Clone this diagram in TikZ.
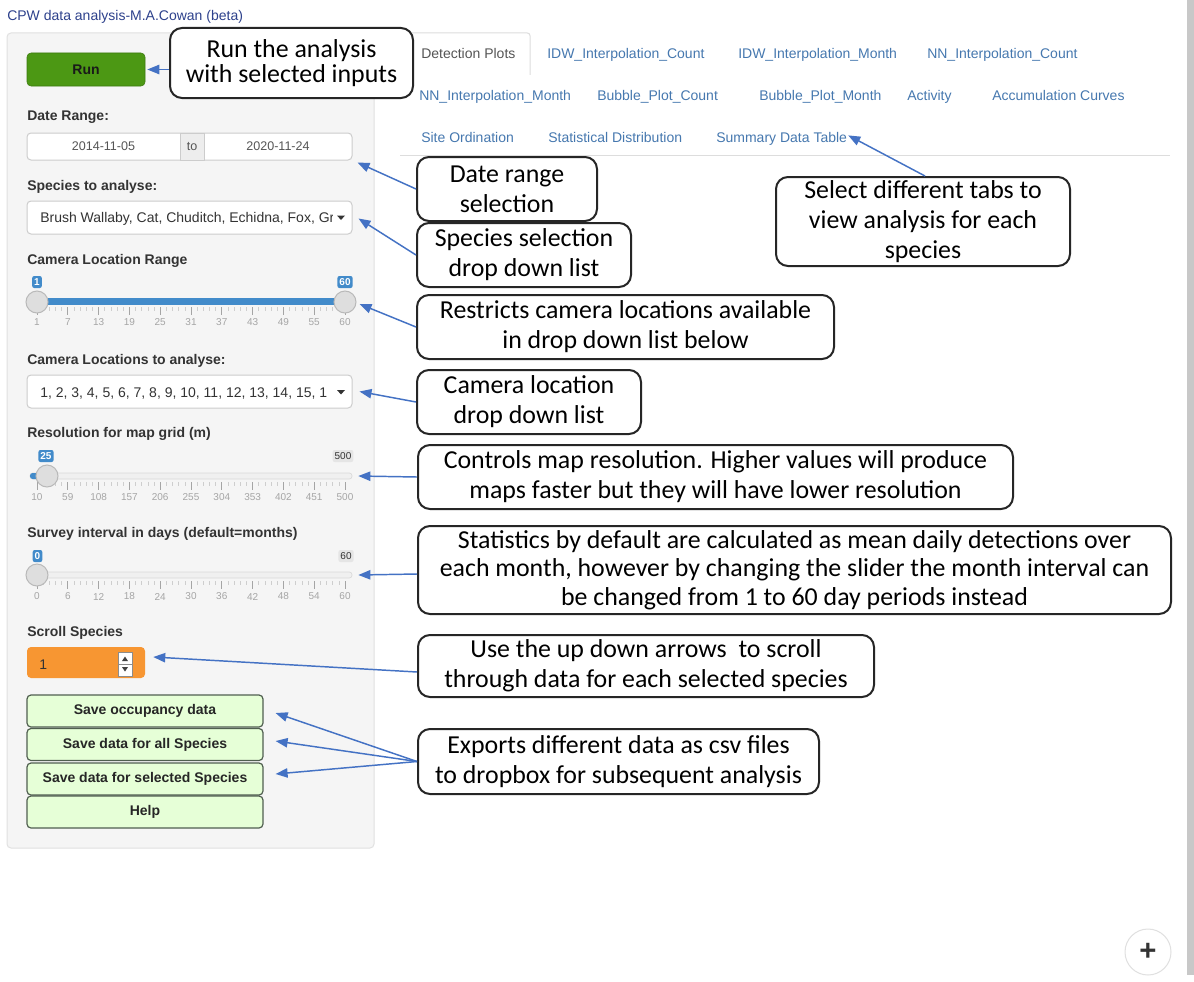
\documentclass[tikz,border=0pt]{standalone}
\usepackage{fontspec}
\setmainfont{Liberation Sans}
\newfontfamily\callfont{Carlito}
\usetikzlibrary{arrows.meta,calc}

\definecolor{titleblue}{RGB}{45,65,140}
\definecolor{panelbg}{RGB}{245,245,245}
\definecolor{panelbd}{RGB}{225,225,225}
\definecolor{rungreen}{RGB}{76,152,20}
\definecolor{inbd}{RGB}{204,204,204}
\definecolor{txtgray}{RGB}{85,85,85}
\definecolor{labgray}{RGB}{51,51,51}
\definecolor{slblue}{RGB}{66,139,202}
\definecolor{tickgray}{RGB}{165,165,165}
\definecolor{handlefill}{RGB}{222,222,222}
\definecolor{handlebd}{RGB}{185,185,185}
\definecolor{orangein}{RGB}{247,150,50}
\definecolor{btngreen}{RGB}{230,255,215}
\definecolor{btnbd}{RGB}{80,95,80}
\definecolor{tabblue}{RGB}{70,120,175}
\definecolor{arrblue}{RGB}{68,114,196}
\definecolor{rulegray}{RGB}{221,221,221}
\definecolor{scrollgray}{RGB}{200,200,200}

\newcommand\uifont{\fontsize{10.5}{12}\selectfont}
\newcommand\smallui{\fontsize{9.4}{11}\selectfont}
\newcommand\tickfont{\fontsize{7.5}{9}\selectfont}
\newcommand\callsize{\callfont\fontsize{19.4}{22.5}\selectfont}

\newcommand\slgrid[2]{%
  \foreach \j in {0,...,50} \draw[tickgray!55,line width=0.5pt] ({37+6.16*\j},#1) -- ++(0,4);
  \foreach \j in {0,...,10} \draw[tickgray,line width=0.6pt] ({37+30.8*\j},#1) -- ++(0,8);
  \foreach \v [count=\i from 0] in {#2} \node[ticklab] at ({37+30.8*\i},#1+15.5) {\v};
}

\begin{document}
\begin{tikzpicture}[x=0.75pt,y=-0.75pt,
  uilab/.style={anchor=base west,inner sep=0,font=\uifont\bfseries,text=labgray},
  tabtxt/.style={anchor=base west,inner sep=0,font=\uifont,text=tabblue},
  callout/.style={draw=black!85,line width=1.5pt,rounded corners=9pt,fill=white,align=center,font=\callsize,inner sep=0pt},
  arr/.style={draw=arrblue,line width=1.1pt,-{Triangle[length=9pt,width=7pt]}},
  inbox/.style={draw=inbd,fill=white,line width=0.75pt,inner sep=0,rounded corners=3pt},
  ticklab/.style={font=\tickfont,text=tickgray,inner sep=0},
  vallab/.style={fill=slblue,text=white,font=\tickfont\bfseries,rounded corners=1.5pt,inner sep=1.5pt,minimum height=9pt},
  graylab/.style={fill=black!10,text=labgray,font=\tickfont,rounded corners=1.5pt,inner sep=1.5pt,minimum height=9pt},
  handle/.style={circle,fill=handlefill,draw=handlebd,line width=0.75pt,minimum size=16.5pt,inner sep=0},
  track/.style={fill=black!6,draw=black!15,line width=0.5pt,rounded corners=2pt,minimum width=322*0.75pt,minimum height=6*0.75pt,inner sep=0},
  savebtn/.style={draw=btnbd,fill=btngreen,line width=0.9pt,rounded corners=3pt,minimum width=177pt,minimum height=24pt,font=\uifont\bfseries,text=black!85,inner sep=0}
]
\useasboundingbox (0,0) rectangle (1194,981);
\fill[white] (0,0) rectangle (1194,981);

% scrollbar
\fill[scrollgray] (1187,0) rectangle (1194,975);

% title
\node[anchor=base west,inner sep=0,font=\uifont,text=titleblue] (title) at (7,21) {CPW data analysis-M.A.Cowan (beta)};

% sidebar panel
\draw[panelbd,fill=panelbg,rounded corners=3pt,line width=0.75pt] (7,33) rectangle (374,848);

% Run button
\node[fill=rungreen,draw=rungreen!80!black,rounded corners=3pt,minimum width=118*0.75pt,minimum height=33*0.75pt,font=\uifont\bfseries,text=black!90,inner sep=0] (runbtn) at (86,69.5) {Run};

% Date range
\node[uilab] (lbldate) at (27,120) {Date Range:};
\node[inbox,minimum width=325*0.75pt,minimum height=27*0.75pt] (dateinput) at (189.5,146.5) {};
\filldraw[draw=inbd,fill=black!7,line width=0.75pt] (180,133) rectangle (204,160);
\node[font=\smallui,text=txtgray,inner sep=0] (datefrom) at (103.5,146.5) {2014-11-05};
\node[font=\smallui,text=txtgray,inner sep=0] (dateto) at (192,146.5) {to};
\node[font=\smallui,text=txtgray,inner sep=0] (dateend) at (278,146.5) {2020-11-24};

% Species
\node[uilab] (lblspec) at (27,190) {Species to analyse:};
\node[inbox,minimum width=325*0.75pt,minimum height=33*0.75pt] (specdd) at (189.5,217.5) {};
\begin{scope}
\clip (30,202) rectangle (332.5,233);
\node[anchor=base west,inner sep=0,font=\uifont,text=labgray] (spectxt) at (40,222.5) {Brush Wallaby, Cat, Chuditch, Echidna, Fox, Gr};
\end{scope}
\fill[labgray] (337,215.5) -- (345,215.5) -- (341,220) -- cycle;

% Camera location range slider
\node[uilab] (lblcamr) at (27,264) {Camera Location Range};
\node[track,fill=slblue,draw=slblue] (tr1) at (191,301.5) {};
\slgrid{307}{1,7,13,19,25,31,37,43,49,55,60}
\node[handle] (h1a) at (37,302) {};
\node[handle] (h1b) at (345,302) {};
\node[vallab] (v1a) at (37,282) {1};
\node[vallab] (v1b) at (345,282) {60};

% Camera locations dropdown
\node[uilab] (lblcaml) at (27,364) {Camera Locations to analyse:};
\node[inbox,minimum width=325*0.75pt,minimum height=33*0.75pt] (camdd) at (189.5,391.5) {};
\node[anchor=base west,inner sep=0,font=\uifont,text=labgray] (camtxt) at (40,397) {1, 2, 3, 4, 5, 6, 7, 8, 9, 10, 11, 12, 13, 14, 15, 1};
\fill[labgray] (337,390) -- (345,390) -- (341,394.5) -- cycle;

% Resolution slider
\node[uilab] (lblres) at (27,437) {Resolution for map grid (m)};
\node[track] (tr2) at (191,476) {};
\fill[slblue,rounded corners=2pt] (30,473) rectangle (47,479);
\slgrid{482}{10,59,108,157,206,255,304,353,402,451,500}
\node[handle] (h2) at (47,476) {};
\node[vallab] (v2a) at (46,456) {25};
\node[graylab] (v2b) at (343,456) {500};

% Survey interval slider
\node[uilab] (lblsurv) at (27,537) {Survey interval in days (default=months)};
\node[track] (tr3) at (191,575) {};
\slgrid{581}{0,6,12,18,24,30,36,42,48,54,60}
\node[handle] (h3) at (37,575) {};
\node[vallab] (v3a) at (37.5,556) {0};
\node[graylab] (v3b) at (346,556) {60};

% Scroll species
\node[uilab] (lblscroll) at (27,636) {Scroll Species};
\node[fill=orangein,rounded corners=3pt,minimum width=118*0.75pt,minimum height=31*0.75pt,inner sep=0] (scrollin) at (86,662.5) {};
\node[anchor=base west,inner sep=0,font=\uifont,text=labgray] (scrollval) at (39,669) {1};
\draw[black!45,fill=white,line width=0.5pt] (118,652) rectangle (132,676);
\draw[black!45,line width=0.5pt] (118,664) -- (132,664);
\fill[black!75] (122,661) -- (128,661) -- (125,656.5) -- cycle;
\fill[black!75] (122,667) -- (128,667) -- (125,671.5) -- cycle;

% Save buttons
\node[savebtn] (b1) at (145,711) {Save occupancy data};
\node[savebtn] (b2) at (145,744.5) {Save data for all Species};
\node[savebtn] (b3) at (145,779) {Save data for selected Species};
\node[savebtn] (b4) at (145,812) {Help};

% Tabs
\draw[rulegray,line width=0.75pt,rounded corners=2pt] (405,75) -- (405,33) -- (530,33) -- (530,75);
\node[tabtxt,text=txtgray] (t1) at (421,59) {Detection Plots};
\node[tabtxt] (t2) at (547,59) {IDW\_Interpolation\_Count};
\node[tabtxt] (t3) at (738,59) {IDW\_Interpolation\_Month};
\node[tabtxt] (t4) at (927,59) {NN\_Interpolation\_Count};
\node[tabtxt] (t5) at (419,100) {NN\_Interpolation\_Month};
\node[tabtxt] (t6) at (597,100) {Bubble\_Plot\_Count};
\node[tabtxt] (t7) at (759,100) {Bubble\_Plot\_Month};
\node[tabtxt] (t8) at (907,100) {Activity};
\node[tabtxt] (t9) at (992,100) {Accumulation Curves};
\node[tabtxt] (t10) at (421,142) {Site Ordination};
\node[tabtxt] (t11) at (548,142) {Statistical Distribution};
\node[tabtxt] (t12) at (716,142) {Summary Data Table};
\draw[rulegray,line width=0.75pt] (400,155) -- (1170,155);

% plus button
\node[circle,draw=black!12,fill=white,minimum size=46*0.75pt,line width=0.75pt,inner sep=0] (plus) at (1148,952) {};
\node[font=\fontsize{22}{22}\selectfont\bfseries,text=black!80,inner sep=0] (plustxt) at (plus.center) {+};

% Callouts
\node[callout,minimum width=243*0.75pt,minimum height=70*0.75pt,font=\callfont\fontsize{19.4}{18.5}\selectfont] (crun) at (291.5,63) {Run the analysis\\with selected inputs};
\node[callout,minimum width=180*0.75pt,minimum height=64*0.75pt] (cdate) at (507,189) {Date range\\selection};
\node[callout,minimum width=214*0.75pt,minimum height=64*0.75pt] (cspec) at (524,255) {Species selection\\drop down list};
\node[callout,minimum width=417*0.75pt,minimum height=64*0.75pt] (crestr) at (625.5,327) {Restricts camera locations available\\in drop down list below};
\node[callout,minimum width=224*0.75pt,minimum height=64*0.75pt] (ccam) at (529,402) {Camera location\\drop down list};
\node[callout,minimum width=595*0.75pt,minimum height=64*0.75pt] (cctrl) at (715.5,477) {Controls map resolution. Higher values will produce\\maps faster but they will have lower resolution};
\node[callout,minimum width=753*0.75pt,minimum height=88*0.75pt,font=\callfont\fontsize{19.4}{21.5}\selectfont] (cstats) at (794.5,570) {Statistics by default are calculated as mean daily detections over\\each month, however by changing the slider the month interval can\\be changed from 1 to 60 day periods instead};
\node[callout,minimum width=456*0.75pt,minimum height=62*0.75pt] (cuse) at (646,666) {Use the up down arrows\ \ to scroll\\through data for each selected species};
\node[callout,minimum width=401*0.75pt,minimum height=65*0.75pt] (cexp) at (618.5,761.5) {Exports different data as csv files\\to dropbox for subsequent analysis};
\node[callout,minimum width=294*0.75pt,minimum height=89*0.75pt] (ctabs) at (923,221.5) {Select different tabs to\\view analysis for each\\species};

% Arrows
\draw[arr] (crun.west |- runbtn.east) -- ([xshift=1.5pt]runbtn.east);
\draw[arr] (cdate.west) -- ([shift={(5,2)}]dateinput.south east);
\draw[arr] (cspec.west) -- ([shift={(6,1)}]specdd.east);
\draw[arr] (crestr.west) -- ([shift={(3,2)}]h1b.east);
\draw[arr] (ccam.west) -- ([shift={(7,0)}]camdd.east);
\draw[arr] (cctrl.west) -- ([shift={(6,0)}]tr2.east);
\draw[arr] ([shift={(0,4)}]cstats.west) -- ([shift={(6,0)}]tr3.east);
\draw[arr] ([shift={(0,6)}]cuse.west) -- ([shift={(8,-5.5)}]scrollin.east);
\draw[arr] (cexp.west) -- ([shift={(12,2)}]b1.east);
\draw[arr] (cexp.west) -- ([shift={(12,-3.5)}]b2.east);
\draw[arr] (cexp.west) -- ([shift={(12,-5)}]b3.east);
\draw[arr] ([shift={(2,0)}]ctabs.north) -- ([shift={(1,-3)}]t12.east);
\end{tikzpicture}
\end{document}
